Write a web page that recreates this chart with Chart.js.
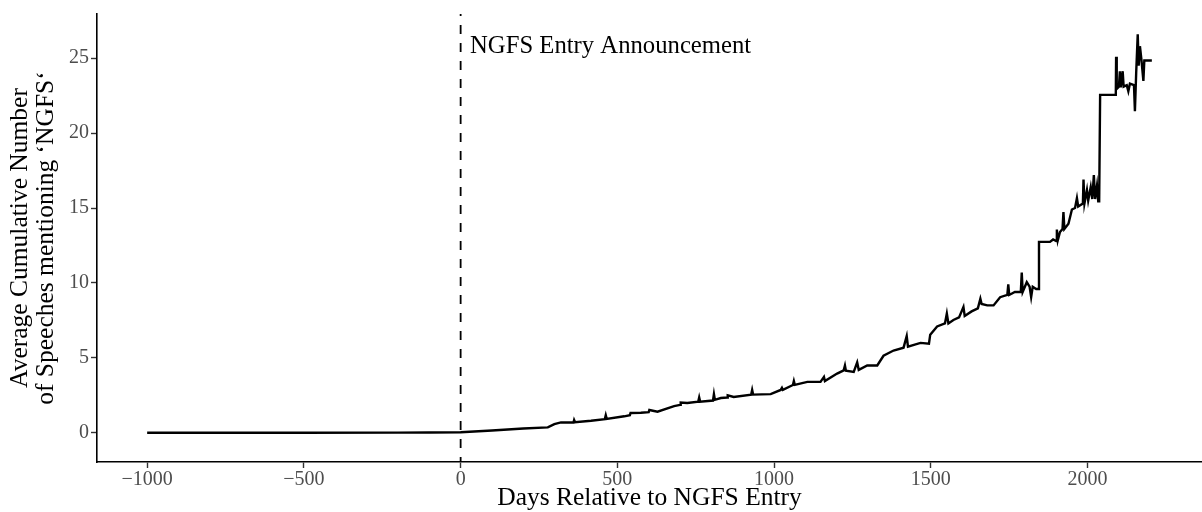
<!DOCTYPE html>
<html>
<head>
<meta charset="utf-8">
<script src="https://cdn.jsdelivr.net/npm/chart.js@4/dist/chart.umd.min.js"></script>
<style>
    html, body { margin: 0; padding: 0; background: #ffffff; }
    #grafico-box { width: 1202px; height: 512px; position: relative; }
</style>
</head>
<body>
<div id="grafico-box"><canvas id="grafico"></canvas></div>
<script>
//Dados
const dias = [
    -1000, -500, -200, -100, 0, 100, 200, 278, 299, 320, 360, 362, 365, 416, 460, 463, 466,
    522, 540, 542, 575, 600, 602, 628, 681, 700, 702, 723, 758, 761, 764, 805, 808, 811, 830,
    850, 852, 871, 927, 930, 933, 989,
    1021, 1025, 1028, 1060, 1063, 1066, 1106, 1148, 1159, 1162, 1201, 1222, 1226, 1229,
    1254, 1265, 1270, 1297, 1329, 1349, 1381, 1413, 1423, 1427, 1467, 1494, 1498, 1520,
    1545, 1551, 1556, 1572, 1590, 1604, 1608, 1630, 1650, 1658, 1662, 1680, 1700, 1721,
    1744, 1747, 1750, 1768, 1787, 1790, 1793, 1806, 1815, 1820, 1825, 1836, 1842, 1845,
    1880, 1890, 1900, 1902, 1905, 1912, 1920, 1923, 1926, 1939, 1950, 1960, 1966, 1970,
    1985, 1987, 1990, 1998, 2002, 2010, 2015, 2020, 2024, 2030, 2034, 2037, 2040, 2090,
    2091, 2093, 2100, 2103, 2106, 2112, 2115, 2125, 2130, 2135, 2148, 2151, 2155, 2160,
    2163, 2167, 2172, 2178, 2181, 2205
];
const mediaAcumulada = [
    0, 0, 0.01, 0.02, 0.04, 0.15, 0.29, 0.36, 0.58, 0.69, 0.69, 0.85, 0.7, 0.8, 0.91, 1.17, 0.93,
    1.1, 1.18, 1.32, 1.34, 1.38, 1.52, 1.41, 1.78, 1.86, 2.02, 1.99, 2.08, 2.36, 2.08, 2.15, 2.58, 2.2, 2.32,
    2.35, 2.5, 2.39, 2.55, 2.86, 2.55, 2.58,
    2.86, 3.0, 2.86, 3.19, 3.45, 3.2, 3.4, 3.4, 3.73, 3.45, 3.95, 4.17, 4.49, 4.15,
    4.06, 4.7, 4.2, 4.49, 4.49, 5.14, 5.49, 5.68, 6.46, 5.75, 6.0, 5.95, 6.55, 7.1,
    7.3, 7.96, 7.3, 7.53, 7.7, 8.4, 7.8, 8.1, 8.3, 8.95, 8.6, 8.5, 8.5, 9.05,
    9.2, 9.9, 9.2, 9.4, 9.4, 10.7, 9.4, 10.05, 9.75, 9.05, 9.75, 9.6, 9.6, 12.74,
    12.74, 12.9, 12.8, 13.56, 12.85, 13.4, 13.6, 14.73, 13.6, 13.95, 14.9, 15.0, 15.66, 15.1,
    15.3, 16.9, 15.3, 16.2, 15.5, 16.4, 15.6, 17.2, 15.6, 16.5, 15.45, 15.45, 22.55, 22.55,
    25.1, 22.95, 23.1, 24.13, 23.05, 24.13, 23.1, 23.2, 22.8, 23.3, 23.2, 21.46, 24.0, 26.6,
    24.5, 25.8, 24.85, 23.48, 24.85, 24.85
];

// linha tracejada (entrada no NGFS) e texto
const diaEntrada = [0];
const textoAnotacao = 'NGFS Entry Announcement';
const anotacaoDia = 30;
const anotacaoValor = 25.75;

const ticksX = [-1000, -500, 0, 500, 1000, 1500, 2000];
const ticksY = [0, 5, 10, 15, 20, 25];

const limitesX = [-1160, 2365];
const limitesY = [-1.95, 27.95];

const fonteSerif = '"Liberation Serif", "Times New Roman", serif';

function formataTick(v) {
    if (v < 0) {
        return '\u2212' + Math.abs(v);
    }
    return String(v);
}

//Plugin que escreve o texto da anotação
const pluginAnotacao = {
    id: 'anotacao',
    afterDatasetsDraw(chart) {
        let ctx = chart.ctx;
        let x = chart.scales.x.getPixelForValue(anotacaoDia);
        let y = chart.scales.y.getPixelForValue(anotacaoValor);
        ctx.save();
        ctx.font = '24.7px ' + fonteSerif;
        ctx.fillStyle = '#000000';
        ctx.textAlign = 'left';
        ctx.textBaseline = 'middle';
        ctx.fillText(textoAnotacao, x, y);
        ctx.restore();
    }
};

function montaGrafico() {
    let pontos = dias.map((d, i) => ({ x: d, y: mediaAcumulada[i] }));
    let pontosEntrada = [
        { x: diaEntrada[0], y: limitesY[0] },
        { x: diaEntrada[0], y: limitesY[1] }
    ];

    const data = {
        datasets: [{
            label: 'Média acumulada',
            data: pontos,
            borderColor: '#000000',
            borderWidth: 2.4,
            pointRadius: 0,
            tension: 0,
            fill: false
        }, {
            label: 'Entrada',
            data: pontosEntrada,
            borderColor: '#000000',
            borderWidth: 1.8,
            borderDash: [9, 9],
            borderDashOffset: 4,
            pointRadius: 0,
            fill: false
        }]
    };

    const config = {
        type: 'line',
        data: data,
        options: {
            responsive: true,
            maintainAspectRatio: false,
            animation: false,
            layout: { padding: { top: 3, right: 0, bottom: 0, left: 0 } },
            plugins: {
                legend: { display: false },
                tooltip: { enabled: false }
            },
            scales: {
                x: {
                    type: 'linear',
                    min: limitesX[0],
                    max: limitesX[1],
                    afterFit(scale) { scale.height = 50; },
                    afterBuildTicks(scale) { scale.ticks = ticksX.map(v => ({ value: v })); },
                    border: { display: true, color: '#000000', width: 1.6 },
                    grid: { drawOnChartArea: false, drawTicks: true, tickLength: 6, tickColor: '#333333', tickWidth: 1.4 },
                    ticks: {
                        color: '#4d4d4d',
                        padding: 0,
                        maxRotation: 0,
                        font: { family: fonteSerif, size: 20 },
                        callback: formataTick
                    },
                    title: {
                        display: true,
                        text: 'Days Relative to NGFS Entry',
                        color: '#000000',
                        font: { family: fonteSerif, size: 25.5, lineHeight: 1.05 },
                        padding: { top: 0, bottom: 0 }
                    }
                },
                y: {
                    type: 'linear',
                    min: limitesY[0],
                    max: limitesY[1],
                    afterFit(scale) { scale.width = 97; },
                    afterBuildTicks(scale) { scale.ticks = ticksY.map(v => ({ value: v })); },
                    border: { display: true, color: '#000000', width: 1.6 },
                    grid: { drawOnChartArea: false, drawTicks: true, tickLength: 6, tickColor: '#333333', tickWidth: 1.4 },
                    ticks: {
                        color: '#4d4d4d',
                        padding: 2,
                        font: { family: fonteSerif, size: 20 },
                        callback: formataTick
                    },
                    title: {
                        display: true,
                        text: ['Average Cumulative Number', 'of Speeches mentioning \u2018NGFS\u2018'],
                        color: '#000000',
                        font: { family: fonteSerif, size: 25.5, lineHeight: 1.0 },
                        padding: { top: 8, bottom: 0 }
                    }
                }
            }
        },
        plugins: [pluginAnotacao]
    };

    const meuGrafico = new Chart(document.getElementById('grafico'), config);
}

montaGrafico();
</script>
</body>
</html>
